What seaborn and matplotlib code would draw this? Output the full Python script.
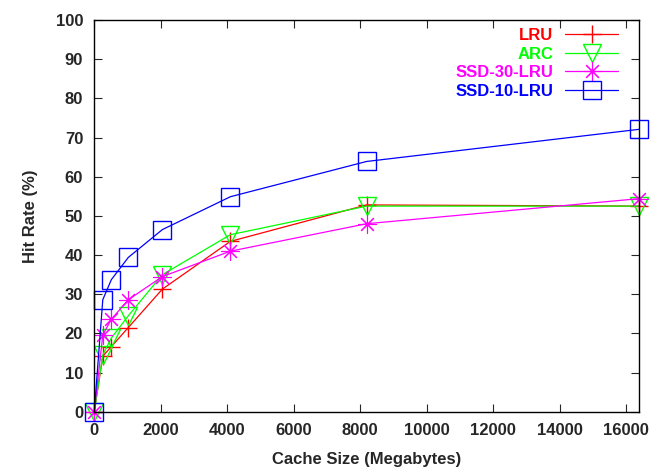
import pandas as pd
import seaborn as sns
import matplotlib.pyplot as plt

# cache sizes (MB) and hit rates (%)
cache_mb = [0, 256, 512, 1024, 2048, 4096, 8192, 16384]
lru = [0, 14.2, 16.6, 21.5, 31.3, 43.5, 52.8, 52.5]
arc = [0, 14.5, 18.8, 24.5, 35.0, 45.2, 52.5, 52.5]
ssd30_lru = [0, 19.6, 23.6, 28.6, 34.5, 41.0, 48.0, 54.4]
ssd10_lru = [0, 28.6, 33.7, 39.4, 46.5, 54.9, 63.9, 72.1]

series_names = ["LRU", "ARC", "SSD-30-LRU", "SSD-10-LRU"]
series_vals = [lru, arc, ssd30_lru, ssd10_lru]
colors = ["#ff0000", "#00ff00", "#ff00ff", "#0000ff"]
markers = ["+", "v", (8, 2, 0), "s"]
edge_w = [1.0, 1.0, 0.8, 1.0]

x_ticks = list(range(0, 16001, 2000))
y_ticks = list(range(0, 101, 10))

sns.set_style("ticks")
plt.rcParams["font.family"] = ["Liberation Sans", "DejaVu Sans"]
plt.rcParams["font.weight"] = "bold"
fs = 12

fig = plt.figure(figsize=(6.57, 4.67), dpi=100)
ax = fig.add_axes([0.1435, 0.1184, 0.829, 0.8386])

for name, vals, col, mk, mw in zip(series_names, series_vals, colors, markers, edge_w):
    df = pd.DataFrame({"size": cache_mb, "hit": vals})
    sns.lineplot(data=df, x="size", y="hit", ax=ax, color=col, lw=0.9,
                 marker=mk, markersize=13, mfc="none", mec=col, mew=mw,
                 clip_on=False, label=name)

ax.set_xlim(0, 16384)
ax.set_ylim(0, 100)
ax.set_xticks(x_ticks, labels=[str(v) for v in x_ticks], fontweight="bold", fontsize=fs)
ax.set_yticks(y_ticks, labels=[str(v) for v in y_ticks], fontweight="bold", fontsize=fs)
ax.tick_params(direction="in", top=True, right=True, length=6, width=0.8, pad=8)
for sp in ax.spines.values():
    sp.set_linewidth(1.0)
    sp.set_color("black")

ax.set_xlabel("Cache Size (Megabytes)", fontsize=fs, fontweight="bold", labelpad=10)
ax.set_ylabel("Hit Rate (%)", fontsize=fs, fontweight="bold", labelpad=13)

leg = ax.legend(loc="upper right", bbox_to_anchor=(0.962, 0.98), frameon=False,
                markerfirst=False, handlelength=3.2, handletextpad=0.7,
                labelspacing=0.22, borderpad=0, borderaxespad=0,
                prop={"size": fs, "weight": "bold"}, labelcolor="linecolor")

fig.savefig("out.png", dpi=100)
